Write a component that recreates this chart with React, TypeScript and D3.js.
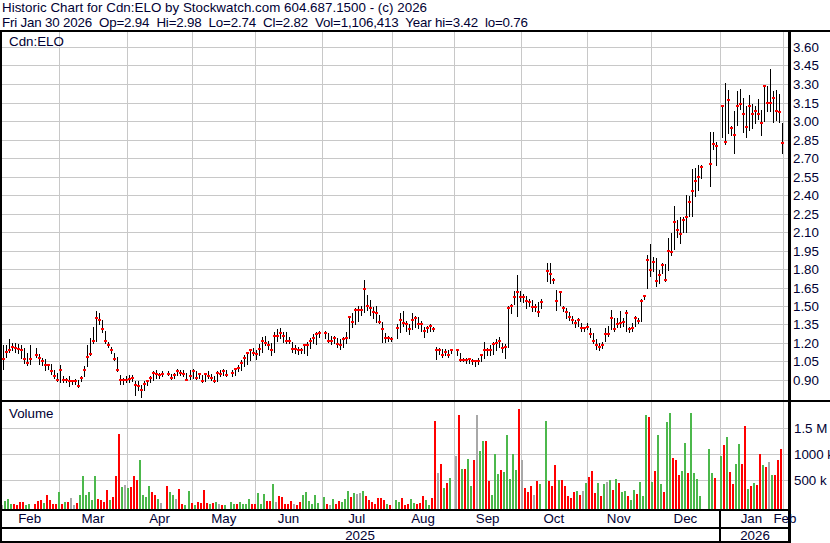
import React, { useEffect, useRef } from "react";
import * as d3 from "d3";

const WIDTH = 830;
const HEIGHT = 543;

// one slot per weekday, Feb 3 2025 .. Jan 30 2026; null = market closed
const closes = [
  // Feb
  1.07, 1.13, 1.14, 1.17, 1.16, 1.15, 1.14, 1.07, 1.04, 1.07, null, 1.10, 1.08, 1.05, 1.02, 1.02, 0.97, 0.93, 0.90, 0.98,
  // Mar
  0.90, 0.90, 0.89, 0.89, 0.89, 0.85, 0.92, 0.98, 1.09, 1.11, 1.22, 1.40, 1.39, 1.31, 1.22, 1.18, 1.14, 1.07, 0.98, 0.90, 0.90,
  // Apr
  0.90, 0.91, 0.92, 0.86, 0.85, 0.82, 0.87, 0.89, 0.92, 0.96, 0.95, 0.94, 0.95, null, 0.95, 0.92, 0.94, 0.97, 0.96, 0.95, 0.90, 0.93,
  // May
  0.97, 0.92, 0.95, 0.89, 0.95, 0.93, 0.92, 0.89, 0.96, 0.95, 0.97, 0.94, null, 0.96, 0.99, 1.00, 1.04, 1.08, 1.12, 1.14, 1.12, 1.11,
  // Jun
  1.15, 1.22, 1.20, 1.18, 1.14, 1.26, 1.26, 1.28, 1.26, 1.22, 1.22, 1.15, 1.15, 1.14, 1.14, 1.18, 1.18, 1.22, 1.24, 1.27, 1.28,
  // Jul
  null, 1.28, 1.22, 1.22, 1.24, 1.19, 1.18, 1.23, 1.24, 1.41, 1.37, 1.47, 1.47, 1.47, 1.64, 1.50, 1.48, 1.45, 1.44, 1.37, 1.31, 1.24, 1.24, 1.23,
  // Aug
  null, 1.32, 1.39, 1.36, 1.35, 1.31, 1.39, 1.40, 1.35, 1.35, 1.30, 1.32, 1.34, 1.31, 1.14, 1.14, 1.10, 1.13, 1.10, 1.14,
  // Sep
  null, 1.14, 1.06, 1.06, 1.06, 1.07, 1.05, 1.05, 1.05, 1.10, 1.14, 1.14, 1.14, 1.19, 1.20, 1.22, 1.16, 1.17, 1.48, 1.50, 1.57, 1.61,
  // Oct
  1.57, 1.57, 1.54, 1.53, 1.49, 1.49, 1.45, 1.53, null, 1.78, 1.76, 1.71, 1.54, 1.61, 1.48, 1.45, 1.41, 1.39, 1.36, 1.39, 1.32, 1.32, 1.33,
  // Nov
  1.27, 1.22, 1.18, 1.17, 1.18, 1.27, 1.27, 1.40, 1.31, 1.35, 1.36, 1.37, 1.44, 1.31, 1.32, 1.40, 1.38, 1.54, 1.58, 1.87,
  // Dec
  1.79, 1.86, 1.70, 1.75, 1.83, 1.71, 1.95, 1.94, 2.18, 2.12, 2.08, 2.20, 2.22, 2.34, 2.43, 2.51, 2.55, 2.63, null, null, 2.65, 2.81, 2.80, null,
  // Jan
  3.12, 2.83, 3.17, 2.94, 2.89, 3.12, 3.14, 3.06, 2.95, 3.12, 3.06, 3.08, 3.06, 2.98, 3.28, 3.15, 3.15, 3.19, 3.08, 3.07, 2.82,
];

const highs = [
  1.18, 1.18, 1.23, 1.20, 1.20, 1.19, 1.18, 1.16, 1.12, 1.18, null, 1.16, 1.11, 1.08, 1.07, 1.03, 1.03, 0.98, 0.96, 1.02,
  0.93, 0.92, 0.93, 0.90, 0.91, 0.90, 0.93, 1.01, 1.18, 1.24, 1.33, 1.46, 1.44, 1.39, 1.30, 1.21, 1.17, 1.12, 1.09, 0.94, 0.92,
  0.93, 0.94, 0.94, 0.89, 0.89, 0.86, 0.89, 0.90, 0.93, 0.97, 0.98, 0.96, 0.97, null, 0.97, 0.95, 0.96, 0.99, 0.98, 0.98, 0.96, 0.98,
  0.99, 0.97, 0.96, 0.94, 0.96, 0.97, 0.95, 0.93, 0.97, 0.98, 0.99, 0.98, null, 0.98, 1.00, 1.02, 1.06, 1.10, 1.13, 1.15, 1.16, 1.14,
  1.19, 1.25, 1.26, 1.22, 1.20, 1.29, 1.31, 1.32, 1.29, 1.29, 1.25, 1.21, 1.18, 1.17, 1.16, 1.19, 1.21, 1.24, 1.27, 1.29, 1.30,
  null, 1.30, 1.28, 1.26, 1.26, 1.24, 1.23, 1.25, 1.29, 1.42, 1.44, 1.48, 1.50, 1.50, 1.71, 1.59, 1.55, 1.49, 1.50, 1.43, 1.37, 1.28, 1.26, 1.25,
  null, 1.35, 1.44, 1.46, 1.38, 1.35, 1.44, 1.42, 1.41, 1.38, 1.33, 1.34, 1.35, 1.33, 1.17, 1.16, 1.15, 1.15, 1.14, 1.15,
  null, 1.15, 1.12, 1.08, 1.08, 1.08, 1.07, 1.06, 1.08, 1.11, 1.21, 1.16, 1.18, 1.21, 1.23, 1.25, 1.20, 1.19, 1.50, 1.52, 1.62, 1.75,
  1.62, 1.60, 1.58, 1.56, 1.55, 1.52, 1.53, 1.56, null, 1.85, 1.85, 1.73, 1.63, 1.62, 1.50, 1.48, 1.45, 1.42, 1.39, 1.40, 1.36, 1.33, 1.36,
  1.32, 1.28, 1.23, 1.20, 1.21, 1.32, 1.34, 1.47, 1.40, 1.40, 1.46, 1.40, 1.47, 1.33, 1.36, 1.42, 1.40, 1.56, 1.59, 1.91,
  2.00, 1.90, 1.89, 1.79, 1.85, 1.84, 2.05, 2.09, 2.31, 2.20, 2.22, 2.22, 2.40, 2.39, 2.61, 2.62, 2.64, 2.64, null, null, 2.91, 2.91, 2.83, null,
  3.13, 3.31, 3.25, 2.96, 3.08, 3.24, 3.26, 3.19, 3.12, 3.21, 3.14, 3.12, 3.18, 3.09, 3.29, 3.28, 3.42, 3.24, 3.25, 3.22, 2.98,
];

const lows = [
  0.99, 1.09, 1.13, 1.14, 1.13, 1.12, 1.08, 1.04, 1.02, 1.03, null, 1.09, 1.03, 1.02, 0.98, 0.99, 0.95, 0.92, 0.89, 0.88,
  0.88, 0.88, 0.85, 0.87, 0.87, 0.84, 0.89, 0.93, 1.01, 1.10, 1.20, 1.22, 1.35, 1.29, 1.20, 1.17, 1.12, 1.06, 0.97, 0.87, 0.87,
  0.88, 0.88, 0.89, 0.78, 0.82, 0.76, 0.82, 0.86, 0.88, 0.90, 0.92, 0.92, 0.93, null, 0.94, 0.91, 0.92, 0.94, 0.94, 0.93, 0.90, 0.91,
  0.92, 0.91, 0.92, 0.88, 0.89, 0.92, 0.90, 0.88, 0.89, 0.93, 0.94, 0.93, null, 0.93, 0.94, 0.97, 0.98, 1.01, 1.03, 1.06, 1.10, 1.07,
  1.10, 1.13, 1.18, 1.15, 1.10, 1.13, 1.22, 1.24, 1.21, 1.20, 1.20, 1.13, 1.12, 1.11, 1.12, 1.12, 1.10, 1.16, 1.20, 1.19, 1.25,
  null, 1.24, 1.21, 1.19, 1.20, 1.17, 1.15, 1.17, 1.20, 1.24, 1.33, 1.35, 1.38, 1.43, 1.45, 1.47, 1.43, 1.40, 1.37, 1.36, 1.21, 1.21, 1.22, 1.22,
  null, 1.24, 1.29, 1.34, 1.30, 1.27, 1.31, 1.33, 1.32, 1.30, 1.25, 1.29, 1.30, 1.30, 1.07, 1.11, 1.09, 1.10, 1.09, 1.12,
  null, 1.10, 1.05, 1.05, 1.04, 1.04, 1.03, 1.01, 1.03, 1.05, 1.08, 1.10, 1.10, 1.11, 1.14, 1.17, 1.13, 1.08, 1.17, 1.44, 1.52, 1.42,
  1.54, 1.53, 1.48, 1.50, 1.46, 1.46, 1.42, 1.48, null, 1.70, 1.69, 1.69, 1.47, 1.51, 1.46, 1.40, 1.39, 1.36, 1.33, 1.34, 1.30, 1.30, 1.31,
  1.25, 1.20, 1.15, 1.14, 1.16, 1.22, 1.26, 1.31, 1.30, 1.33, 1.33, 1.34, 1.30, 1.29, 1.30, 1.34, 1.36, 1.38, 1.56, 1.65,
  1.74, 1.78, 1.66, 1.69, 1.77, 1.70, 1.79, 1.91, 1.96, 2.06, 2.01, 2.10, 2.10, 2.23, 2.23, 2.39, 2.44, 2.54, null, null, 2.47, 2.77, 2.64, null,
  2.87, 2.81, 2.90, 2.89, 2.74, 2.97, 3.10, 2.91, 2.87, 2.93, 2.94, 2.98, 3.02, 2.89, 3.00, 3.08, 3.08, 2.99, 3.01, 2.99, 2.74,
];

// thousands of shares
const volumes = [
  20, 100, 130, 30, 40, 20, 70, 70, 15, 30, null, 30, 90, 120, 50, 210, 110, 30, 40, 270,
  40, 70, 70, 150, 20, 50, 210, 580, 210, 270, 110, 580, 130, 120, 70, 300, 110, 170, 580, 1390, 360,
  400, 340, 360, 580, 500, 890, 210, 170, 380, 270, 210, 130, 50, null, 380, 270, 210, 130, 320, 30, 20, 290,
  50, 10, 70, 50, 300, 50, 40, 50, 70, 30, 20, 10, null, 70, 30, 40, 70, 40, 40, 130, 40, 30,
  250, 30, 230, 90, 90, 420, 70, 190, 170, 30, 40, 90, 30, 10, 70, 210, 270, 90, 40, 210, 50,
  null, 170, 30, 10, 130, 30, 90, 70, 130, 290, 170, 250, 230, 250, 290, 190, 110, 70, 40, 150, 150, 110, 30, 20,
  null, 110, 70, 150, 20, 40, 130, 55, 35, 55, 190, 110, 15, 150, 1640, 640, 810, 345, 440, 540,
  null, 960, 1750, 720, 720, 900, 390, 890, 1760, 1060, 1260, 1260, 490, 210, 1000, 620, 700, 660, 1370, 520, 1000, 700,
  1870, 880, 340, 270, 380, 220, 490, 430, null, 1650, 490, 380, 800, 500, 500, 380, 200, 150, 260, 280, 220, 280, 450,
  550, 680, 240, 450, 200, 430, 470, 500, 300, 520, 450, 260, 290, 190, 110, 310, 230, 460, 200, 1760,
  1710, 460, 680, 1380, 420, 270, 1630, 1790, 930, 890, 600, 670, 1220, 640, 1790, 640, 520, 190, null, null, 1100, 630, 540, null,
  960, 1180, 1330, 660, 420, 810, 1200, 810, 1550, 320, 380, 440, 400, 1000, 790, 745, 850, 600, 600, 890, 1106,
];

// day change: g up, r down, n unchanged, - closed
const changes = [
  "ngggrrrrgg-rrrgrrrrg",
  "rgrnnrggggggrrrrgrrrg",
  "ngrrrggggrrgn-rggnrrgg",
  "rgrrrrgrgnrg-ggrggggrr",
  "gggrrgnrrrrrnrrgggggg",
  "-grngrrgggrgnngrrrrrrrgr",
  "-ggrrrggrrrggrrnrgrg",
  "-nrgrggrnggrrgggrggggg",
  "rnrrrnrg-grrrgrrrrrgrng",
  "rrrgrgngrgrggrggrggg",
  "rgrggrggrrrggrgggg--ggr-",
  "grgrrggrrgrgrrgrngrrr",
].join("");

const priceTicks = ["3.60", "3.45", "3.30", "3.15", "3.00", "2.85", "2.70", "2.55", "2.40", "2.25",
  "2.10", "1.95", "1.80", "1.65", "1.50", "1.35", "1.20", "1.05", "0.90"];
const volumeTicks = [500, 1000, 1500];
const volumeTickLabels = ["500 k", "1000 k", "1.5 M"];
const monthLabels = ["Feb", "Mar", "Apr", "May", "Jun", "Jul", "Aug", "Sep", "Oct", "Nov", "Dec", "Jan", "Feb"];
// month boundaries in slot units
const monthStarts = [-1.16, 18.55, 40.96, 62.77, 83.71, 105.8, 129.06, 149.87, 172.04, 193.88, 215.16, 238.2, 259.1];
const yearLabels = ["2025", "2026"];
const yearStarts = [-1.16, 238.2];

const headerLine1 = "Historic Chart for Cdn:ELO by Stockwatch.com 604.687.1500 - (c) 2026";
const headerLine2 = "Fri Jan 30 2026  Op=2.94  Hi=2.98  Lo=2.74  Cl=2.82  Vol=1,106,413  Year hi=3.42  lo=0.76";

const FONT = "'Liberation Sans', Arial, sans-serif";
const TEXT = "#000033";

function StockChart() {
  const ref = useRef<SVGSVGElement>(null);

  useEffect(() => {
    const svg = d3.select(ref.current);
    svg.selectAll("*").remove();

    const frameLeft = 2;
    const frameRight = 788;
    const volBottom = 509;

    const x = d3.scaleLinear().domain([0, 259]).range([3.5, 782.6]);
    const y = d3.scaleLinear().domain([0.9, 3.6]).range([380, 47]);
    const yVol = d3.scaleLinear().domain([0, 1500]).range([505.9, 428.3]);

    svg.append("rect").attr("width", WIDTH).attr("height", HEIGHT).attr("fill", "#ffffff");

    // grid
    const grid = svg.append("g").attr("stroke", "#c8c8c8").attr("stroke-width", 1);
    priceTicks.forEach((t) => {
      const yy = Math.round(y(+t)) + 0.5;
      grid.append("line").attr("x1", frameLeft).attr("x2", frameRight).attr("y1", yy).attr("y2", yy);
    });
    volumeTicks.forEach((t) => {
      const yy = Math.round(yVol(t)) + 0.5;
      grid.append("line").attr("x1", frameLeft).attr("x2", frameRight).attr("y1", yy).attr("y2", yy);
    });
    monthStarts.slice(1).forEach((m) => {
      const xx = Math.round(x(m)) + 0.5;
      if (xx >= frameRight) return;
      grid.append("line").attr("x1", xx).attr("x2", xx).attr("y1", 32).attr("y2", 400);
      grid.append("line").attr("x1", xx).attr("x2", xx).attr("y1", 402).attr("y2", volBottom);
    });

    // volume bars
    const volColor: Record<string, string> = { g: "#4cb84c", r: "#ff0000", n: "#a8a8a8" };
    const vol = svg.append("g");
    volumes.forEach((v, i) => {
      if (v == null) return;
      const top = Math.round(yVol(v));
      vol.append("rect")
        .attr("x", Math.floor(x(i)) - 2)
        .attr("y", top)
        .attr("width", 2)
        .attr("height", Math.max(1, volBottom - top))
        .attr("fill", volColor[changes[i]] || "#a8a8a8");
    });

    // price bars: high-low line, red close tick
    const bars = svg.append("g");
    closes.forEach((c, i) => {
      const h = highs[i];
      const l = lows[i];
      if (c == null || h == null || l == null) return;
      const xx = Math.floor(x(i));
      bars.append("line")
        .attr("x1", xx + 0.5).attr("x2", xx + 0.5)
        .attr("y1", Math.round(y(h))).attr("y2", Math.round(y(l)) + 1)
        .attr("stroke", "#000").attr("stroke-width", 1);
      bars.append("rect")
        .attr("x", xx - 1).attr("y", Math.round(y(c)) - 1)
        .attr("width", 3).attr("height", 2)
        .attr("fill", "#ff0000");
    });

    // frame
    const frame = svg.append("g").attr("fill", "#000");
    frame.append("rect").attr("x", 0).attr("y", 30).attr("width", WIDTH).attr("height", 2);
    frame.append("rect").attr("x", 0).attr("y", 400).attr("width", WIDTH).attr("height", 2);
    frame.append("rect").attr("x", 0).attr("y", volBottom).attr("width", 791).attr("height", 2);
    frame.append("rect").attr("x", 0).attr("y", 527).attr("width", 791).attr("height", 2);
    frame.append("rect").attr("x", 0).attr("y", 541).attr("width", 791).attr("height", 2);
    frame.append("rect").attr("x", 0).attr("y", 30).attr("width", 2).attr("height", 513);
    frame.append("rect").attr("x", frameRight).attr("y", 30).attr("width", 3).attr("height", 513);
    frame.append("rect").attr("x", Math.round(x(yearStarts[1])) - 1).attr("y", volBottom).attr("width", 2).attr("height", 34);

    const text = svg.append("g")
      .attr("font-family", FONT)
      .attr("font-size", 13.33)
      .attr("fill", TEXT);

    text.append("text").attr("x", 2).attr("y", 12)
      .attr("textLength", 425).attr("lengthAdjust", "spacing")
      .text(headerLine1);
    text.append("text").attr("x", 2).attr("y", 26.5)
      .style("white-space", "pre")
      .attr("textLength", 526).attr("lengthAdjust", "spacing")
      .text(headerLine2);
    text.append("text").attr("x", 9).attr("y", 46).text("Cdn:ELO");
    text.append("text").attr("x", 9).attr("y", 418).text("Volume");

    priceTicks.forEach((t) => {
      text.append("text").attr("x", 793).attr("y", Math.round(y(+t)) + 5).text(t);
    });
    volumeTicks.forEach((t, i) => {
      text.append("text").attr("x", 794).attr("y", Math.round(yVol(t)) + 5).text(volumeTickLabels[i]);
    });

    monthLabels.forEach((m, i) => {
      const cx = i < monthStarts.length - 1
        ? (Math.max(0, x(monthStarts[i])) + x(monthStarts[i + 1])) / 2
        : x(monthStarts[i]) + 2;
      text.append("text").attr("x", cx).attr("y", 523).attr("text-anchor", "middle").text(m);
    });
    yearLabels.forEach((yl, i) => {
      const x0 = Math.max(0, x(yearStarts[i]));
      const x1 = i < yearStarts.length - 1 ? x(yearStarts[i + 1]) : frameRight + 2;
      text.append("text").attr("x", (x0 + x1) / 2).attr("y", 539.5).attr("text-anchor", "middle").text(yl);
    });
  }, []);

  return (
    <svg
      ref={ref}
      width={WIDTH}
      height={HEIGHT}
      style={{ position: "absolute", left: 0, top: 0, display: "block" }}
    />
  );
}

export default function App() {
  return <StockChart />;
}
